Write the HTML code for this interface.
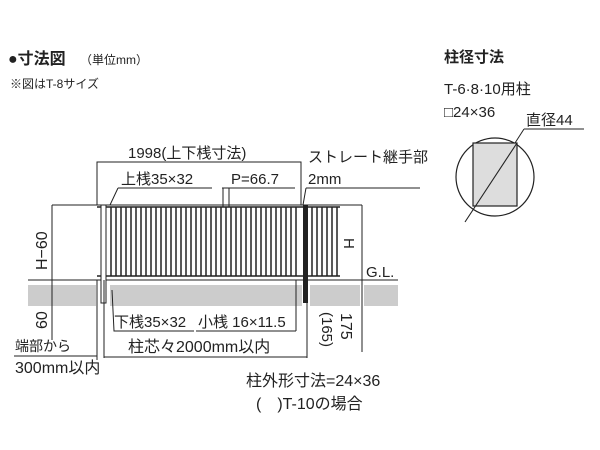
<!DOCTYPE html>
<html><head><meta charset="utf-8"><style>
body{margin:0;background:#fff}
svg{display:block}
text{font-family:"Liberation Sans","Noto Sans CJK JP",sans-serif;fill:#222}
</style></head><body>
<svg width="600" height="450" viewBox="0 0 600 450" xmlns="http://www.w3.org/2000/svg">
<text x="8" y="64" font-size="16" font-weight="bold">●寸法図</text>
<text x="80" y="64" font-size="12">（単位mm）</text>
<text x="10" y="88" font-size="12">※図はT-8サイズ</text>
<text x="444" y="62" font-size="15" font-weight="bold">柱径寸法</text>
<text x="444" y="94" font-size="15">T-6·8·10用柱</text>
<text x="444" y="117" font-size="15">□24×36</text>
<text x="526" y="125" font-size="15">直径44</text>
<line x1="524" y1="129" x2="584" y2="129" stroke="#222"/>
<line x1="524" y1="129" x2="515" y2="143" stroke="#222"/>
<circle cx="495" cy="177" r="39" fill="none" stroke="#222" stroke-width="1.2"/>
<rect x="473" y="143" width="44" height="63" fill="#ddd" stroke="#222" stroke-width="1.2"/>
<line x1="465" y1="222" x2="517" y2="143" stroke="#222" stroke-width="1.1"/>
<!-- gray ground -->
<rect x="28" y="285" width="68" height="21" fill="#ccc"/>
<rect x="110" y="285" width="192" height="21" fill="#ccc"/>
<rect x="310" y="285" width="50" height="21" fill="#ccc"/>
<rect x="364" y="285" width="34" height="21" fill="#ccc"/>
<line x1="28" y1="280" x2="398" y2="280" stroke="#222"/>
<!-- fence -->
<line x1="52" y1="205" x2="362" y2="205" stroke="#222"/>
<line x1="97" y1="207" x2="340" y2="207" stroke="#222" stroke-width="1.5"/>
<line x1="97" y1="276" x2="340" y2="276" stroke="#222" stroke-width="1.5"/>
<g stroke="#222" stroke-width="1.5">
<line x1="111" y1="207" x2="111" y2="276"/><line x1="116" y1="207" x2="116" y2="276"/><line x1="121" y1="207" x2="121" y2="276"/><line x1="126" y1="207" x2="126" y2="276"/><line x1="131" y1="207" x2="131" y2="276"/><line x1="136" y1="207" x2="136" y2="276"/><line x1="141" y1="207" x2="141" y2="276"/><line x1="146" y1="207" x2="146" y2="276"/><line x1="151" y1="207" x2="151" y2="276"/><line x1="156" y1="207" x2="156" y2="276"/><line x1="161" y1="207" x2="161" y2="276"/><line x1="166" y1="207" x2="166" y2="276"/><line x1="171" y1="207" x2="171" y2="276"/><line x1="176" y1="207" x2="176" y2="276"/><line x1="181" y1="207" x2="181" y2="276"/><line x1="186" y1="207" x2="186" y2="276"/><line x1="191" y1="207" x2="191" y2="276"/><line x1="196" y1="207" x2="196" y2="276"/><line x1="201" y1="207" x2="201" y2="276"/><line x1="206" y1="207" x2="206" y2="276"/><line x1="211" y1="207" x2="211" y2="276"/><line x1="216" y1="207" x2="216" y2="276"/><line x1="221" y1="207" x2="221" y2="276"/><line x1="226" y1="207" x2="226" y2="276"/><line x1="231" y1="207" x2="231" y2="276"/><line x1="236" y1="207" x2="236" y2="276"/><line x1="241" y1="207" x2="241" y2="276"/><line x1="246" y1="207" x2="246" y2="276"/><line x1="251" y1="207" x2="251" y2="276"/><line x1="256" y1="207" x2="256" y2="276"/><line x1="261" y1="207" x2="261" y2="276"/><line x1="266" y1="207" x2="266" y2="276"/><line x1="271" y1="207" x2="271" y2="276"/><line x1="276" y1="207" x2="276" y2="276"/><line x1="281" y1="207" x2="281" y2="276"/><line x1="286" y1="207" x2="286" y2="276"/><line x1="291" y1="207" x2="291" y2="276"/><line x1="296" y1="207" x2="296" y2="276"/>
<line x1="312" y1="207" x2="312" y2="276"/><line x1="317" y1="207" x2="317" y2="276"/><line x1="322" y1="207" x2="322" y2="276"/><line x1="327" y1="207" x2="327" y2="276"/><line x1="332" y1="207" x2="332" y2="276"/><line x1="337" y1="207" x2="337" y2="276"/>
</g>
<rect x="101" y="205" width="5" height="98" fill="#fff" stroke="#222"/>
<rect x="303" y="205" width="5" height="98" fill="#222"/>
<!-- dimension lines -->
<polyline points="97,205 97,162 301,162 301,205" fill="none" stroke="#222"/>
<text x="128" y="158" font-size="15">1998(上下桟寸法)</text>
<text x="121" y="184" font-size="15">上桟35×32</text>
<line x1="118" y1="188" x2="212" y2="188" stroke="#222"/>
<line x1="118" y1="188" x2="110" y2="205" stroke="#222"/>
<text x="231" y="184" font-size="15">P=66.7</text>
<line x1="222" y1="188" x2="295" y2="188" stroke="#222"/>
<line x1="223" y1="188" x2="223" y2="207" stroke="#222"/>
<line x1="229" y1="188" x2="229" y2="207" stroke="#222"/>
<text x="308" y="162" font-size="15">ストレート継手部</text>
<text x="308" y="184" font-size="15">2mm</text>
<line x1="306" y1="188" x2="420" y2="188" stroke="#222"/>
<line x1="306" y1="188" x2="303" y2="205" stroke="#222"/>
<line x1="362" y1="205" x2="362" y2="352" stroke="#222"/>
<text transform="translate(344,238) rotate(90)" font-size="15">H</text>
<text x="366" y="277" font-size="15">G.L.</text>
<line x1="52" y1="205" x2="52" y2="340" stroke="#222"/>
<text transform="translate(47,270) rotate(-90)" font-size="16">H−60</text>
<text transform="translate(47,329) rotate(-90)" font-size="16">60</text>
<text x="114" y="327" font-size="15">下桟35×32</text>
<text x="198" y="327" font-size="15">小桟 16×11.5</text>
<polyline points="112,290 114,331 194,331" fill="none" stroke="#222"/>
<line x1="196" y1="331" x2="296" y2="331" stroke="#222"/>
<line x1="296" y1="331" x2="296" y2="280" stroke="#222"/>
<line x1="97" y1="280" x2="97" y2="360" stroke="#222"/>
<line x1="104" y1="280" x2="104" y2="358" stroke="#222"/>
<line x1="307" y1="303" x2="307" y2="358" stroke="#222"/>
<text x="128" y="352" font-size="16">柱芯々2000mm以内</text>
<line x1="104" y1="357" x2="307" y2="357" stroke="#222"/>
<text x="15" y="351" font-size="14">端部から</text>
<line x1="14" y1="356" x2="97" y2="356" stroke="#222"/>
<text x="15" y="373" font-size="16">300mm以内</text>
<text transform="translate(322,312) rotate(90)" font-size="15">(165)</text>
<text transform="translate(341,313) rotate(90)" font-size="16">175</text>
<text x="246" y="386" font-size="16">柱外形寸法=24×36</text>
<text x="256" y="409" font-size="16">(　)T-10の場合</text>
</svg>
</body></html>
